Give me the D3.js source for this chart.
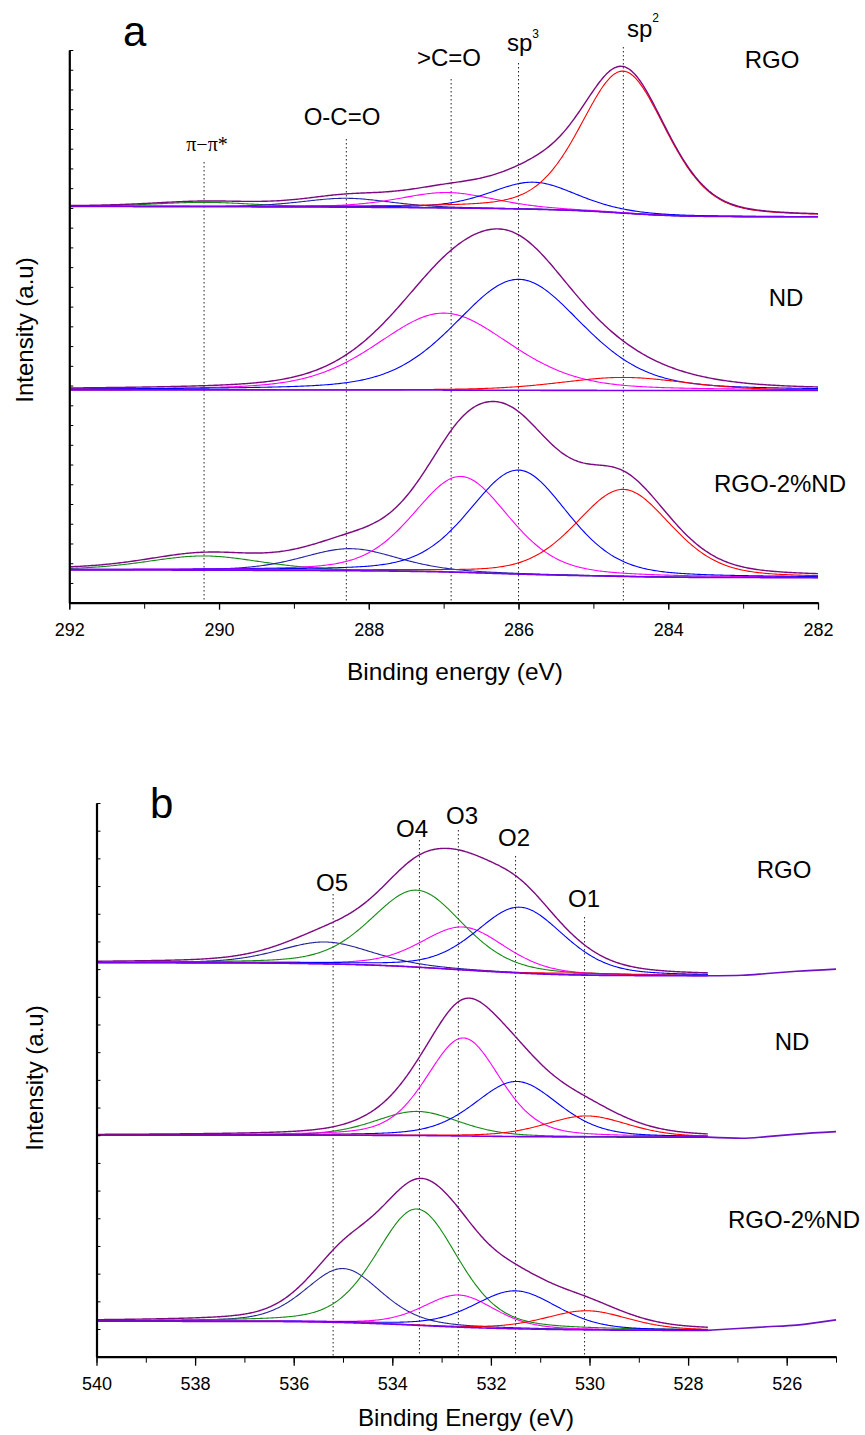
<!DOCTYPE html>
<html>
<head>
<meta charset="utf-8">
<script src="https://cdn.jsdelivr.net/npm/d3@7"></script>
<style>
  body { margin: 0; background: #fff; }
  svg { display: block; }
  text { font-family: "Liberation Sans", Arial, sans-serif; fill: #000; }
</style>
</head>
<body>
<div id="chart"></div>
<script>
var svgWidth = 865;
var svgHeight = 1435;

// ---------- panel a : C 1s ----------
var c1sTicks = [292, 290, 288, 286, 284, 282];
var c1sSamples = ["RGO", "ND", "RGO-2%ND"];
var c1sMarkers = [290.2, 288.3, 286.9, 286.0, 284.6];
var c1sMarkerLabels = ["π−π*", "O-C=O", ">C=O", "sp3", "sp2"];
var c1sColors = ["#138a13", "#2424a6", "#ff00ff", "#0000ff", "#ff0000"];
// component centre (eV), height (a.u.), FWHM (eV) -- order as c1sMarkers
var c1sCentreRGO = [290.2, 288.3, 286.95, 285.8, 284.6];
var c1sHeightRGO = [0.22, 0.45, 0.78, 1.37, 7.19];
var c1sFwhmRGO = [1.6, 1.4, 1.5, 1.35, 1.35];
var c1sCentreND = [290.2, 288.3, 287.0, 286.0, 284.6];
var c1sHeightND = [0, 0, 3.90, 5.62, 0.66];
var c1sFwhmND = [1.6, 1.4, 2.1, 2.0, 2.0];
var c1sCentreMix = [290.2, 288.25, 286.77, 286.0, 284.6];
var c1sHeightMix = [0.72, 1.12, 4.86, 5.27, 4.41];
var c1sFwhmMix = [1.8, 1.5, 1.5, 1.55, 1.5];
// Shirley background level [high BE side, low BE side]
var c1sBackground = [[20.07, 19.55], [10.78, 10.75], [1.66, 1.27]];

// ---------- panel b : O 1s ----------
var o1sTicks = [540, 538, 536, 534, 532, 530, 528, 526];
var o1sSamples = ["RGO", "ND", "RGO-2%ND"];
var o1sMarkers = [535.2, 533.45, 532.66, 531.5, 530.1];
var o1sMarkerLabels = ["O5", "O4", "O3", "O2", "O1"];
var o1sColors = ["#23239e", "#138a13", "#ff00ff", "#0000ff", "#ff0000"];
var o1sCentreRGO = [535.36, 533.5, 532.56, 531.41, 530.1];
var o1sHeightRGO = [0.79, 2.78, 1.55, 2.38, 0.07];
var o1sFwhmRGO = [2.2, 2.2, 2.0, 2.1, 2.0];
var o1sCentreND = [535.2, 533.5, 532.56, 531.48, 530.06];
var o1sHeightND = [0, 0.87, 3.54, 1.99, 0.76];
var o1sFwhmND = [2.0, 2.0, 1.75, 2.0, 2.0];
var o1sCentreMix = [535.0, 533.5, 532.65, 531.5, 530.05];
var o1sHeightMix = [1.95, 4.2, 1.16, 1.37, 0.69];
var o1sFwhmMix = [1.8, 1.95, 1.7, 2.0, 2.0];
var o1sBackground = [[14.23, 13.76], [8.0, 7.93], [1.28, 0.95]];
// measured trace beyond the fitted window (low BE end)
var o1sTailEnergy = [527.6, 526.9, 526.4, 525.8, 525.0];
var o1sTailRGO = [13.76, 13.78, 13.84, 13.92, 14.0];
var o1sTailND = [7.93, 7.89, 7.95, 8.04, 8.13];
var o1sTailMix = [0.95, 1.03, 1.08, 1.14, 1.33];

// Lorentzian share of the Gaussian-Lorentzian line shape
var mixL = 0.3;

var svg = d3.select("#chart")
  .append("svg")
  .attr("width", svgWidth)
  .attr("height", svgHeight);

function glPeak(e, c, h, w) {
  var t = (e - c) / w;
  return h * ((1 - mixL) * Math.exp(-4 * Math.LN2 * t * t) + mixL / (1 + 4 * t * t));
}

// build component, background and envelope curves for one spectrum
function buildSpectrum(lo, hi, centres, heights, fwhms, bg) {
  var step = 0.02;
  var grid = d3.range(lo, hi + step / 2, step);
  var peaks = grid.map(function(e) {
    return centres.map(function(c, i) { return glPeak(e, c, heights[i], fwhms[i]); });
  });
  var sums = peaks.map(function(p) { return d3.sum(p); });
  var cum = d3.cumsum(sums);
  var total = cum[cum.length - 1];
  var back = grid.map(function(e, j) { return bg[1] + (bg[0] - bg[1]) * cum[j] / total; });
  var comps = centres.map(function(c, i) {
    return grid.map(function(e, j) { return [e, back[j] + peaks[j][i]]; });
  });
  return {
    comps: comps,
    background: grid.map(function(e, j) { return [e, back[j]]; }),
    envelope: grid.map(function(e, j) { return [e, back[j] + sums[j]]; })
  };
}

function drawPanel(cfg) {
  var x = d3.scaleLinear().domain([cfg.xMax, cfg.xMin]).range([cfg.left, cfg.right]);
  var y = d3.scaleLinear().domain([0, cfg.yMax]).range([cfg.bottom, cfg.top]);
  var g = svg.append("g");

  var line = d3.line()
    .x(function(d) { return x(d[0]); })
    .y(function(d) { return y(d[1]); });

  // dotted marker lines
  g.selectAll(".marker")
    .data(cfg.markers)
    .enter().append("line")
    .attr("x1", function(d) { return x(d); })
    .attr("x2", function(d) { return x(d); })
    .attr("y1", function(d, i) { return cfg.markerTop[i]; })
    .attr("y2", cfg.bottom)
    .attr("stroke", "#222")
    .attr("stroke-width", 1)
    .attr("stroke-dasharray", "1.5,2.5");

  cfg.spectra.forEach(function(s, k) {
    var sp = buildSpectrum(cfg.fitMin, cfg.xMax, s.centre, s.height, s.fwhm, cfg.background[k]);
    sp.comps.forEach(function(c, i) {
      if (s.height[i] <= 0) return;
      g.append("path").datum(c)
        .attr("d", line)
        .attr("fill", "none")
        .attr("stroke", cfg.colors[i])
        .attr("stroke-width", 1.1);
    });
    g.append("path").datum(sp.background)
      .attr("d", line)
      .attr("fill", "none")
      .attr("stroke", "#7a00f0")
      .attr("stroke-width", 1.6);
    g.append("path").datum(sp.envelope)
      .attr("d", line)
      .attr("fill", "none")
      .attr("stroke", "#7d0a82")
      .attr("stroke-width", 1.4);
    if (s.tail) {
      var pts = cfg.tailEnergy.map(function(e, j) { return [e, s.tail[j]]; });
      g.append("path").datum(pts)
        .attr("d", line.curve(d3.curveMonotoneX))
        .attr("fill", "none")
        .attr("stroke", "#6f10c8")
        .attr("stroke-width", 1.6);
      line.curve(d3.curveLinear);
    }
  });

  // axes
  var yAxis = g.append("g")
    .attr("transform", "translate(" + cfg.left + ",0)")
    .call(d3.axisRight(y).tickValues(d3.range(0, cfg.yMax + 1)).tickSize(4).tickSizeOuter(0).tickFormat(""));
  yAxis.select(".domain").attr("stroke-width", 2.2);

  g.append("g")
    .attr("transform", "translate(0," + cfg.bottom + ")")
    .call(d3.axisBottom(x).tickValues(d3.range(cfg.xMin, cfg.xMax + 1)).tickSize(cfg.minorTick).tickSizeOuter(0).tickFormat(""))
    .select(".domain").attr("stroke-width", 2.2);

  var xMajor = g.append("g")
    .attr("transform", "translate(0," + cfg.bottom + ")")
    .call(d3.axisBottom(x).tickValues(cfg.ticks).tickSize(cfg.majorTick).tickSizeOuter(0).tickPadding(cfg.tickPad));
  xMajor.select(".domain").remove();
  xMajor.selectAll("line").attr("stroke-width", 1.3);
  xMajor.selectAll("text")
    .style("font-family", "'Liberation Sans', Arial, sans-serif")
    .style("font-size", "18px")
    .attr("fill", "#000");

  // marker labels
  cfg.markerLabels.forEach(function(t, i) {
    var m = /^sp(\d)$/.exec(t);
    var txt = g.append("text")
      .attr("x", cfg.labelX[i])
      .attr("y", cfg.labelY[i])
      .attr("text-anchor", m ? "start" : "middle")
      .style("font-size", "24px");
    if (m) {
      txt.append("tspan").text("sp");
      txt.append("tspan").attr("dy", cfg.supShift[i]).style("font-size", "12px").text(m[1]);
    } else if (t.indexOf("π") >= 0) {
      txt.style("font-family", "'Liberation Serif', 'Times New Roman', serif").style("font-size", "20px").text(t);
    } else {
      txt.text(t);
    }
  });

  // sample names
  cfg.samples.forEach(function(t, i) {
    g.append("text")
      .attr("x", cfg.sampleX[i])
      .attr("y", cfg.sampleY[i])
      .attr("text-anchor", "middle")
      .style("font-size", "24px")
      .text(t);
  });

  // panel letter
  g.append("text")
    .attr("x", cfg.letterX)
    .attr("y", cfg.letterY)
    .style("font-size", "42px")
    .text(cfg.letter);

  // axis titles
  g.append("text")
    .attr("x", cfg.titleX)
    .attr("y", cfg.titleY)
    .attr("text-anchor", "middle")
    .attr("textLength", 216)
    .attr("lengthAdjust", "spacingAndGlyphs")
    .style("font-size", "24px")
    .text(cfg.xTitle);

  g.append("text")
    .attr("transform", "translate(" + cfg.yTitleX + "," + cfg.yTitleY + ") rotate(-90)")
    .attr("text-anchor", "middle")
    .style("font-size", "24px")
    .text("Intensity (a.u)");
}

drawPanel({
  xMin: 282, xMax: 292, fitMin: 282, yMax: 28,
  left: 69.3, right: 818, top: 50, bottom: 602.7,
  ticks: c1sTicks, minorTick: 6, majorTick: 7, tickPad: 14,
  markers: c1sMarkers, markerLabels: c1sMarkerLabels, colors: c1sColors,
  markerTop: [162, 139, 79, 63, 47],
  labelX: [207, 342, 449, 507, 627],
  labelY: [151, 125, 66, 51, 37],
  supShift: [0, 0, 0, -13, -15],
  samples: c1sSamples,
  sampleX: [772, 786, 780],
  sampleY: [68, 306, 492],
  spectra: [
    { centre: c1sCentreRGO, height: c1sHeightRGO, fwhm: c1sFwhmRGO },
    { centre: c1sCentreND, height: c1sHeightND, fwhm: c1sFwhmND },
    { centre: c1sCentreMix, height: c1sHeightMix, fwhm: c1sFwhmMix }
  ],
  background: c1sBackground,
  letter: "a", letterX: 123, letterY: 46,
  xTitle: "Binding energy (eV)", titleX: 455, titleY: 680,
  yTitleX: 33, yTitleY: 330
});

drawPanel({
  xMin: 525, xMax: 540, fitMin: 527.6, yMax: 20,
  left: 96.5, right: 836, top: 803, bottom: 1356.7,
  ticks: o1sTicks, minorTick: 6, majorTick: 9, tickPad: 11.5,
  markers: o1sMarkers, markerLabels: o1sMarkerLabels, colors: o1sColors,
  markerTop: [894, 840, 830, 856, 917],
  labelX: [332, 412, 462, 514, 584],
  labelY: [891, 837, 824, 846, 907],
  supShift: [0, 0, 0, 0, 0],
  samples: o1sSamples,
  sampleX: [784, 792, 794],
  sampleY: [878, 1050, 1228],
  tailEnergy: o1sTailEnergy,
  spectra: [
    { centre: o1sCentreRGO, height: o1sHeightRGO, fwhm: o1sFwhmRGO, tail: o1sTailRGO },
    { centre: o1sCentreND, height: o1sHeightND, fwhm: o1sFwhmND, tail: o1sTailND },
    { centre: o1sCentreMix, height: o1sHeightMix, fwhm: o1sFwhmMix, tail: o1sTailMix }
  ],
  background: o1sBackground,
  letter: "b", letterX: 150, letterY: 818,
  xTitle: "Binding Energy (eV)", titleX: 466, titleY: 1426,
  yTitleX: 43, yTitleY: 1078
});
</script>
</body>
</html>
